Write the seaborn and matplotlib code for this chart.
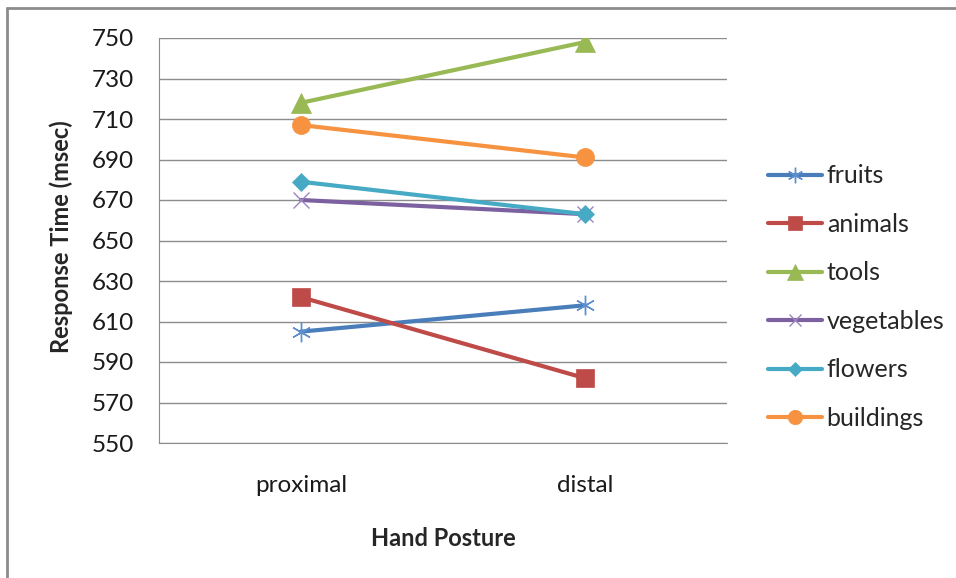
import numpy as np
import pandas as pd
import matplotlib
matplotlib.use("Agg")
import matplotlib.pyplot as plt
from matplotlib.lines import Line2D
import seaborn as sns

# === Data ===
postures = ["proximal", "distal"]
fruits = [605, 618]
animals = [622, 582]
tools = [718, 748]
vegetables = [670, 663]
flowers = [679, 663]
buildings = [707, 691]

categories = ["fruits", "animals", "tools", "vegetables", "flowers", "buildings"]
values = [fruits, animals, tools, vegetables, flowers, buildings]

# === Styles (line colour, marker, marker face, marker edge, size) ===
STYLES = {
    "fruits": ("#4A7EBB", (6, 2, 0), "none", "#5B8FD0", 14),
    "animals": ("#BE4B48", "s", "#BE4B48", "#BE4B48", 13),
    "tools": ("#98B954", "^", "#98B954", "#98B954", 14),
    "vegetables": ("#7D60A0", "x", "none", "#9B86C0", 11),
    "flowers": ("#46AAC5", "D", "#46AAC5", "#46AAC5", 9),
    "buildings": ("#F69240", "o", "#F69240", "#F69240", 13),
}

df = pd.DataFrame({
    "posture": np.tile(postures, len(categories)),
    "category": np.repeat(categories, len(postures)),
    "rt": np.concatenate(values),
})

sns.set_style("white")
plt.rcParams["font.family"] = ["Lato", "DejaVu Sans"]

fig = plt.figure(figsize=(9.56, 5.78), dpi=100)
ax = fig.add_axes([159 / 956, 1 - 443 / 578, 568 / 956, 405 / 578])

handles = []
for cat in categories:
    color, marker, mfc, mec, ms = STYLES[cat]
    sub = df[df["category"] == cat]
    mew = 1.0 if mfc == "none" else 0.5
    sns.lineplot(data=sub, x="posture", y="rt", ax=ax, color=color, linewidth=3.0,
                 marker=marker, markersize=ms, markerfacecolor=mfc,
                 markeredgecolor=mec, markeredgewidth=mew,
                 legend=False, sort=False)
    handles.append(Line2D([0], [0], color=color, linewidth=3.0, marker=marker,
                          markersize=ms * 0.8, markerfacecolor=mfc, markeredgecolor=mec,
                          markeredgewidth=mew, label=cat))

ax.set_xlim(-0.5, 1.5)
ax.set_ylim(550, 750)
ax.set_yticks(np.arange(550, 751, 20))
ax.yaxis.grid(True, color="#8C8C8C", linewidth=1.0)
ax.set_axisbelow(True)
for s in ["top", "right"]:
    ax.spines[s].set_visible(False)
ax.spines["left"].set_color("#8C8C8C")
ax.spines["bottom"].set_color("#8C8C8C")
ax.tick_params(axis="y", length=0, pad=18, labelsize=17.5, labelcolor="#1a1a1a")
ax.tick_params(axis="x", length=0, pad=23, labelsize=17.5, labelcolor="#1a1a1a")

ax.set_xlabel("")
ax.set_ylabel("")
fig.text(61 / 956, 1 - 237 / 578, "Response Time (msec)", rotation=90, ha="center",
         va="center", fontsize=17, fontweight="bold")
fig.text(443 / 956, 1 - 538 / 578, "Hand Posture", ha="center", va="center",
         fontsize=17, fontweight="bold")

fig.legend(handles=handles, loc="center left", bbox_to_anchor=(768 / 956, 1 - 297 / 578),
           frameon=False, fontsize=18, handlelength=2.15, handletextpad=0.2,
           labelspacing=1.02, borderpad=0, borderaxespad=0)

# outer chart border
fig.add_artist(Line2D([7 / 956, 1.0], [1 - 8 / 578, 1 - 8 / 578], color="#8C8C8C",
                      linewidth=2.0, transform=fig.transFigure))
fig.add_artist(Line2D([7 / 956, 7 / 956], [0.0, 1 - 8 / 578], color="#8C8C8C",
                      linewidth=2.0, transform=fig.transFigure))

fig.savefig("out.png", dpi=100)
